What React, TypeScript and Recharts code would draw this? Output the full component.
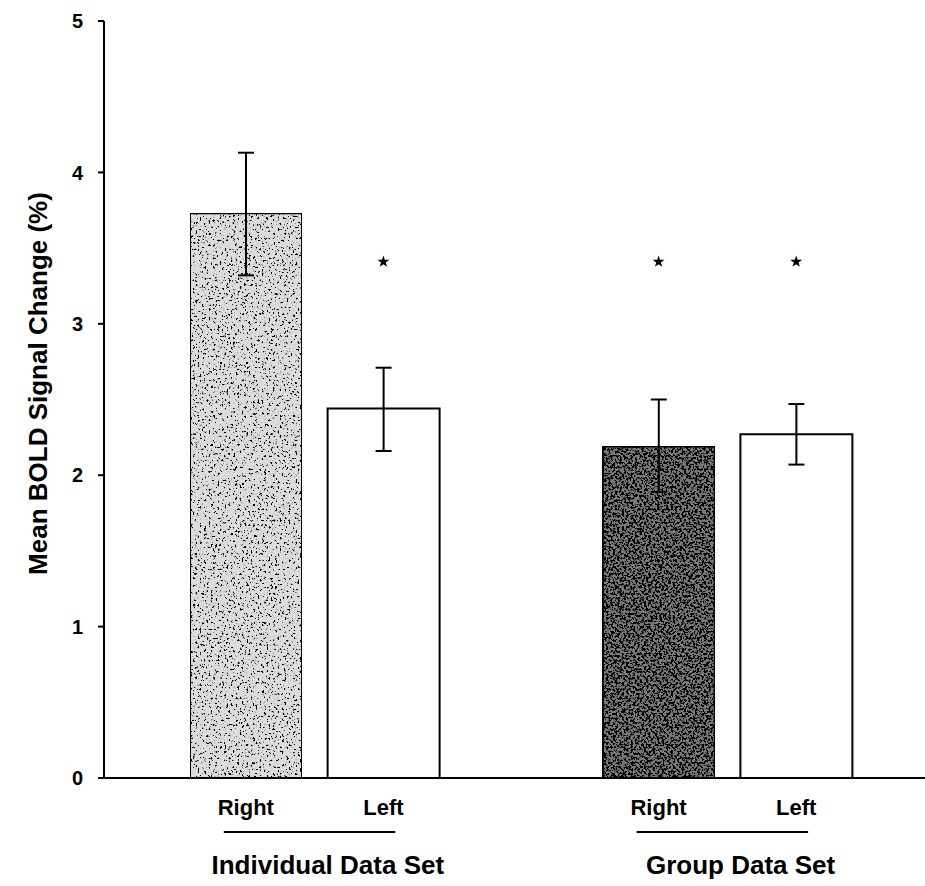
import { ComposedChart, Bar, Cell, ErrorBar, Line, Symbols, XAxis, YAxis } from 'recharts';

const conditions = ['Right', 'Left', 'Right', 'Left'];
const dataSets = ['Individual Data Set', 'Individual Data Set', 'Group Data Set', 'Group Data Set'];
const means = [3.73, 2.44, 2.19, 2.27];
const errLow = [0.41, 0.28, 0.3, 0.2];
const errHigh = [0.4, 0.27, 0.31, 0.2];
const significant = [false, true, true, true];
const STAR_LEVEL = 3.41;
const yTicks = [0, 1, 2, 3, 4, 5];

// stippled right-hemisphere bars, plain left ones
const FILLS = ['#dcdcdc', '#ffffff', '#7a7a7a', '#ffffff'];
const FILTERS = ['url(#stippleLight)', undefined, 'url(#stippleDark)', undefined];
const FONT = '"Liberation Sans", Arial, sans-serif';

// one empty slot between the two data sets
const rows: any[] = [];
conditions.forEach((c, i) => {
  if (i > 0 && dataSets[i] !== dataSets[i - 1]) rows.push({ id: 'gap', label: '', set: '' });
  rows.push({
    id: `c${i}`,
    label: c,
    set: dataSets[i],
    first: i === 0 || dataSets[i] !== dataSets[i - 1],
    mean: means[i],
    err: [errLow[i], errHigh[i]],
    sig: significant[i] ? STAR_LEVEL : null,
    fill: FILLS[i],
    filter: FILTERS[i],
  });
});

const BAND = 137.5;

function CondTick(props: any) {
  const { x, y, index } = props;
  const row = rows[index];
  if (!row || !row.label) return null;
  return (
    <g fontFamily={FONT}>
      <text x={x} y={y + 37} textAnchor="middle" fontSize={22} fontWeight="bold" fill="#000">
        {row.label}
      </text>
      {row.first && (
        <>
          <line x1={x - 22} x2={x + BAND + 12} y1={y + 54} y2={y + 54} stroke="#000" strokeWidth={2} />
          <text x={x + 82} y={y + 96} textAnchor="middle" fontSize={26} fontWeight="bold" fill="#000">
            {row.set}
          </text>
        </>
      )}
    </g>
  );
}

function YTitle(props: any) {
  const { viewBox } = props;
  const cx = viewBox.x + 38;
  const cy = viewBox.y + viewBox.height / 2 - 16;
  return (
    <text
      x={cx}
      y={cy}
      transform={`rotate(-90, ${cx}, ${cy})`}
      textAnchor="middle"
      dominantBaseline="central"
      fontFamily={FONT}
      fontSize={26}
      fontWeight="bold"
      fill="#000"
    >
      Mean BOLD Signal Change (%)
    </text>
  );
}

function StarDot(props: any) {
  const { cx, cy, value } = props;
  if (value == null || cx == null || cy == null) return null;
  return <Symbols cx={cx} cy={cy} type="star" size={45} fill="#000" stroke="none" />;
}

export default function App() {
  return (
    <div style={{ position: 'absolute', left: 0, top: 0, background: '#fff' }}>
      <ComposedChart width={925} height={886} data={rows} margin={{ top: 21, right: 0, bottom: 107, left: 0 }}>
        <defs>
          <filter id="stippleLight" x="0" y="0" width="100%" height="100%">
            <feTurbulence type="fractalNoise" baseFrequency="0.45" numOctaves={2} seed={3} result="noise" />
            <feColorMatrix in="noise" type="matrix" values="0 0 0 0 0  0 0 0 0 0  0 0 0 0 0  12 0 0 0 -7.2" result="dots" />
            <feComposite in="dots" in2="SourceGraphic" operator="in" result="clipped" />
            <feMerge>
              <feMergeNode in="SourceGraphic" />
              <feMergeNode in="clipped" />
            </feMerge>
          </filter>
          <filter id="stippleDark" x="0" y="0" width="100%" height="100%">
            <feTurbulence type="fractalNoise" baseFrequency="0.45" numOctaves={2} seed={7} result="noise" />
            <feColorMatrix in="noise" type="matrix" values="0 0 0 0 0  0 0 0 0 0  0 0 0 0 0  12 0 0 0 -5.6" result="dots" />
            <feComposite in="dots" in2="SourceGraphic" operator="in" result="clipped" />
            <feMerge>
              <feMergeNode in="SourceGraphic" />
              <feMergeNode in="clipped" />
            </feMerge>
          </filter>
        </defs>
        <XAxis
          dataKey="id"
          type="category"
          height={1}
          axisLine={{ stroke: '#000', strokeWidth: 2 }}
          tickLine={false}
          tickSize={0}
          tickMargin={0}
          padding={{ left: 73, right: 60 }}
          interval={0}
          tick={<CondTick />}
        />
        <YAxis
          domain={[0, 5]}
          ticks={yTicks}
          width={104}
          axisLine={{ stroke: '#000', strokeWidth: 2 }}
          tickLine={{ stroke: '#000', strokeWidth: 2 }}
          tickSize={6}
          tickMargin={15}
          tick={{ fill: '#000', fontSize: 20, fontWeight: 'bold', fontFamily: FONT }}
          label={<YTitle />}
        />
        <Bar dataKey="mean" barSize={112} stroke="#000" strokeWidth={2} isAnimationActive={false}>
          {rows.map((r, i) => (
            <Cell key={i} fill={r.fill || '#fff'} filter={r.filter} />
          ))}
          <ErrorBar dataKey="err" width={8} stroke="#000" strokeWidth={2} direction="y" isAnimationActive={false} />
        </Bar>
        <Line
          dataKey="sig"
          stroke="none"
          connectNulls={false}
          dot={<StarDot />}
          activeDot={false}
          legendType="none"
          isAnimationActive={false}
        />
      </ComposedChart>
    </div>
  );
}
